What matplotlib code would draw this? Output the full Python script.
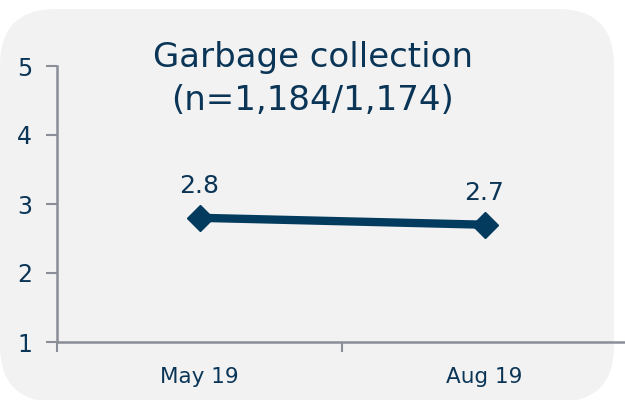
import matplotlib.pyplot as plt
from matplotlib.patches import FancyBboxPatch

# data
months = ["May 19", "Aug 19"]
scores = [2.8, 2.7]
labels = ["2.8", "2.7"]
yticks = [1, 2, 3, 4, 5]
title = "Garbage collection\n(n=1,184/1,174)"

INK = "#0B3556"
LINE = "#033B5E"
SPINE = "#8B8E98"
BG = "#F2F2F2"

W, H = 625, 400
fig = plt.figure(figsize=(W / 100, H / 100), dpi=100)
fig.patch.set_facecolor("white")

# rounded grey panel behind everything
panel = FancyBboxPatch((0.0, -2 / H), 614 / W, 393 / H,
                       boxstyle="round,pad=0,rounding_size=0.09",
                       transform=fig.transFigure, facecolor=BG,
                       edgecolor="none", zorder=-5,
                       mutation_aspect=W / H)
fig.patches.append(panel)

ax = fig.add_axes([57 / W, (H - 342) / H, 570 / W, 276 / H])
ax.set_facecolor("none")
ax.set_zorder(2)

x = list(range(len(months)))
ax.plot(x, scores, "-D", color=LINE, lw=6, ms=13, mec=LINE,
        solid_capstyle="round", clip_on=False)
for xi, v, s in zip(x, scores, labels):
    ax.annotate(s, (xi, v), xytext=(0, 14), textcoords="offset points",
                ha="center", va="bottom", fontsize=18, color=INK)

ax.set_xlim(-0.5, 1.5)
ax.set_ylim(1, 5)
ax.set_yticks(yticks)
ax.set_xticks(x)
ax.set_xticklabels(months)
ax.set_xticks([-0.5, 0.5, 1.5], minor=True)
ax.tick_params(axis="x", which="major", length=0, pad=18, labelsize=15.5,
               labelcolor=INK)
ax.tick_params(axis="x", which="minor", length=7, width=1.5, color=SPINE,
               direction="out")
ax.tick_params(axis="y", length=8, width=1.5, color=SPINE, pad=10,
               labelsize=17, labelcolor=INK)
for side in ("top", "right"):
    ax.spines[side].set_visible(False)
for side in ("left", "bottom"):
    ax.spines[side].set_color(SPINE)
    ax.spines[side].set_linewidth(1.8)

fig.text(313 / W, 1 - 79 / H, title, ha="center", va="center",
         fontsize=24.5, color=INK, linespacing=1.4)

fig.savefig("out.png", dpi=100)
